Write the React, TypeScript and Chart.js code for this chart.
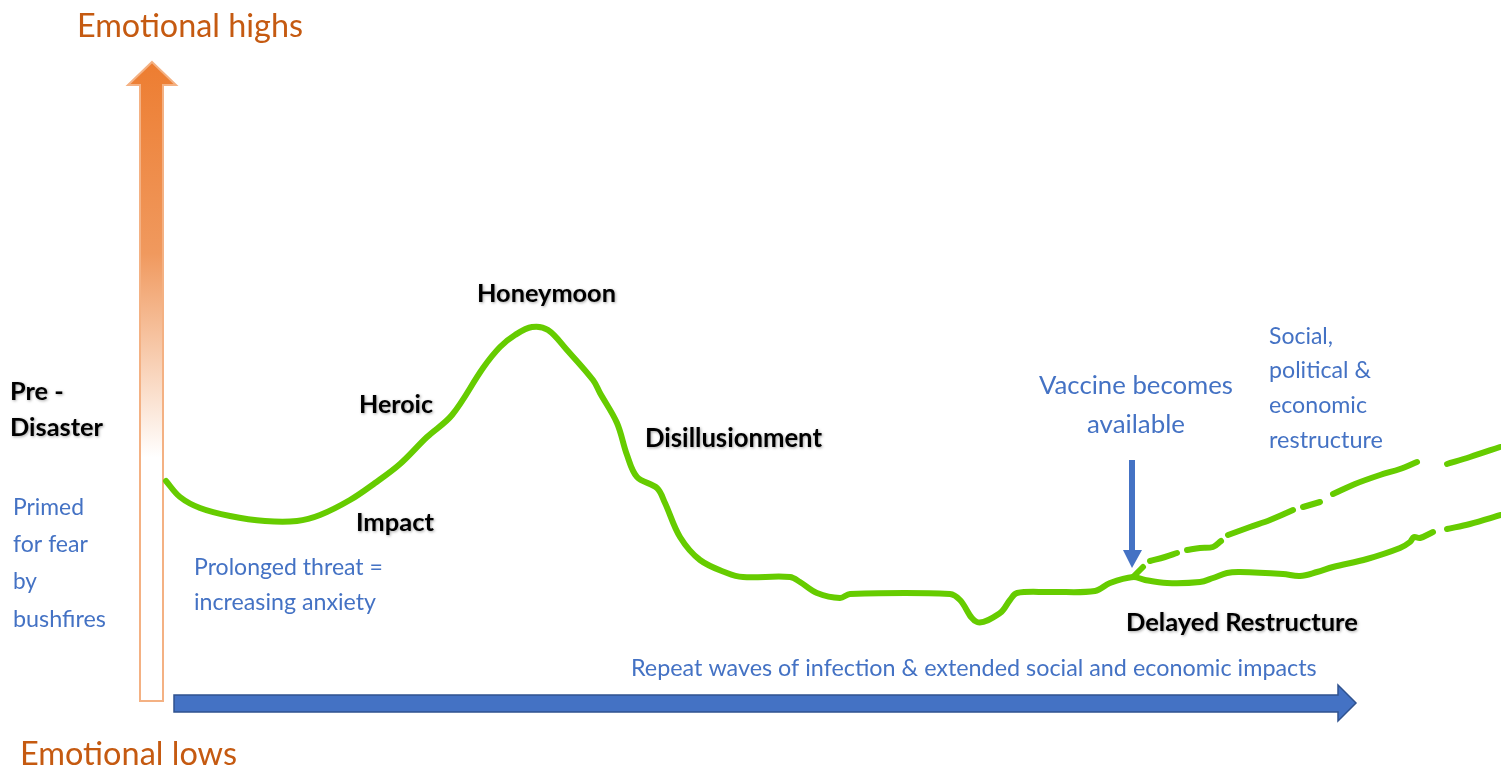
import React, { useEffect, useRef } from "react";
import { Chart, registerables } from "chart.js";

Chart.register(...registerables);

const W = 1501;
const H = 771;

// Main emotional trajectory: time (x) and emotional level (y, higher = better)
const mainTime = [
  166, 180, 200, 230, 265, 297, 320, 350, 375, 400, 427, 452, 483, 500, 515, 532,
  548, 567, 593, 600, 617, 627, 637, 657, 665, 680, 700, 727, 743, 790, 800, 817,
  840, 850, 950, 960, 977, 1000, 1010, 1017, 1050, 1095, 1110, 1133, 1145, 1167,
  1200, 1213, 1227, 1240, 1283, 1300, 1317, 1333, 1367, 1400, 1410, 1414, 1420, 1433,
];
const mainLevel = [
  290, 274, 263, 255, 250, 250, 256, 271, 288, 307, 334, 356, 403, 424, 436, 444,
  441, 421, 391, 378, 348, 316, 294, 283, 268, 234, 211, 198, 194, 194, 189, 178,
  173, 177, 177, 171, 149, 158, 171, 178, 179, 180, 188, 194, 191, 188,
  189, 193, 198, 199, 197, 195, 199, 204, 212, 223, 229, 234, 233, 239,
];

// Delayed-restructure tail (dashed continuation of the main line)
const tailTime = [1447, 1470, 1501];
const tailLevel = [242, 247, 256];

// Social, political & economic restructure path (hand-drawn dashes, null = gap)
const restructureTime = [
  1133, 1138, 1143, 1146, 1150, 1165, 1177, 1182, 1187, 1200, 1213, 1221, 1224,
  1228, 1250, 1270, 1293, 1298, 1303, 1320, 1326, 1333, 1355, 1380, 1400, 1417,
  1432, 1447, 1470, 1500,
];
const restructureLevel = [
  194, 199, 204, null, 210, 214, 218, null, 221, 223, 224, 230, null,
  236, 244, 251, 261, null, 264, 269, null, 277, 287, 296, 302, 309,
  null, 307, 314, 324,
];

type Label = {
  text: string;
  x: number;
  y: number;
  w: number;
  bold?: boolean;
  color: string;
  sizeOf?: string;
};

const ORANGE_TXT = "#C55A11";
const BLUE_TXT = "#4472C4";
const BLACK = "#000000";

const labels: Label[] = [
  { text: "Emotional highs", x: 77, y: 27, w: 226, color: ORANGE_TXT },
  { text: "Emotional lows", x: 20, y: 755, w: 217, color: ORANGE_TXT },
  { text: "Disaster", x: 10, y: 428, w: 93, bold: true, color: BLACK },
  { text: "Pre -", x: 10, y: 392, w: 38, bold: true, color: BLACK, sizeOf: "Disaster" },
  { text: "Primed", x: 13, y: 508, w: 71, color: BLUE_TXT },
  { text: "for fear", x: 13, y: 545, w: 75, color: BLUE_TXT },
  { text: "by", x: 13, y: 582, w: 24, color: BLUE_TXT },
  { text: "bushfires", x: 13, y: 619, w: 93, color: BLUE_TXT },
  { text: "Honeymoon", x: 477, y: 294, w: 139, bold: true, color: BLACK },
  { text: "Heroic", x: 359, y: 405, w: 74, bold: true, color: BLACK },
  { text: "Impact", x: 356, y: 523, w: 78, bold: true, color: BLACK },
  { text: "Disillusionment", x: 645, y: 439, w: 177, bold: true, color: BLACK },
  { text: "Prolonged threat =", x: 194, y: 568, w: 189, color: BLUE_TXT },
  { text: "increasing anxiety", x: 194, y: 603, w: 182, color: BLUE_TXT },
  { text: "Vaccine becomes", x: 1039, y: 386, w: 194, color: BLUE_TXT },
  { text: "available", x: 1087, y: 425, w: 98, color: BLUE_TXT },
  { text: "Social,", x: 1269, y: 337, w: 64, color: BLUE_TXT },
  { text: "political &", x: 1269, y: 371, w: 102, color: BLUE_TXT },
  { text: "economic", x: 1269, y: 406, w: 98, color: BLUE_TXT },
  { text: "restructure", x: 1269, y: 440, w: 114, color: BLUE_TXT },
  { text: "Delayed Restructure", x: 1126, y: 623, w: 232, bold: true, color: BLACK },
  {
    text: "Repeat waves of infection & extended social and economic impacts",
    x: 631, y: 668, w: 686, color: BLUE_TXT,
  },
];

const FONT = "Lato, 'Open Sans', sans-serif";
const GREEN = "#66CC00";

const diagramPlugin = {
  id: "diagram",
  beforeDatasetsDraw(chart: any) {
    const ctx: CanvasRenderingContext2D = chart.ctx;
    ctx.save();
    // Orange vertical arrow (emotional highs)
    const g = ctx.createLinearGradient(0, 62, 0, 700);
    g.addColorStop(0, "#ED7D31");
    g.addColorStop(0.3, "#F0995E");
    g.addColorStop(0.62, "#FFFFFF");
    g.addColorStop(1, "#FFFFFF");
    ctx.beginPath();
    ctx.moveTo(152, 62);
    ctx.lineTo(176, 85);
    ctx.lineTo(163, 85);
    ctx.lineTo(163, 701);
    ctx.lineTo(140, 701);
    ctx.lineTo(140, 85);
    ctx.lineTo(128, 85);
    ctx.closePath();
    ctx.fillStyle = g;
    ctx.fill();
    ctx.lineWidth = 2;
    ctx.strokeStyle = "#F4B183";
    ctx.stroke();

    // Blue horizontal arrow (time)
    ctx.beginPath();
    ctx.moveTo(174, 695);
    ctx.lineTo(1338, 695);
    ctx.lineTo(1338, 685);
    ctx.lineTo(1356, 703);
    ctx.lineTo(1338, 721);
    ctx.lineTo(1338, 712);
    ctx.lineTo(174, 712);
    ctx.closePath();
    ctx.fillStyle = "#4472C4";
    ctx.fill();
    ctx.lineWidth = 1.5;
    ctx.strokeStyle = "#2F528F";
    ctx.stroke();

    // Blue vaccine arrow
    ctx.beginPath();
    ctx.moveTo(1129, 460);
    ctx.lineTo(1135, 460);
    ctx.lineTo(1135, 550);
    ctx.lineTo(1142, 550);
    ctx.lineTo(1132, 568);
    ctx.lineTo(1123, 550);
    ctx.lineTo(1129, 550);
    ctx.closePath();
    ctx.fillStyle = "#4472C4";
    ctx.fill();
    ctx.restore();
  },
  afterDatasetsDraw(chart: any) {
    const ctx: CanvasRenderingContext2D = chart.ctx;
    ctx.save();
    ctx.textBaseline = "middle";
    ctx.textAlign = "left";
    const sizes: Record<string, number> = {};
    for (const l of labels) {
      const weight = l.bold ? "bold " : "";
      let size: number;
      if (l.sizeOf && sizes[l.sizeOf]) {
        size = sizes[l.sizeOf];
      } else {
        ctx.font = `${weight}20px ${FONT}`;
        const m = ctx.measureText(l.text).width;
        size = (20 * l.w) / m;
      }
      sizes[l.text] = size;
      ctx.font = `${weight}${size.toFixed(2)}px ${FONT}`;
      if (l.bold) {
        ctx.shadowColor = "rgba(0,0,0,0.35)";
        ctx.shadowBlur = 3;
        ctx.shadowOffsetX = 1;
        ctx.shadowOffsetY = 1;
      } else {
        ctx.shadowColor = "rgba(0,0,0,0)";
        ctx.shadowBlur = 0;
        ctx.shadowOffsetX = 0;
        ctx.shadowOffsetY = 0;
      }
      ctx.fillStyle = l.color;
      ctx.fillText(l.text, l.x, l.y);
    }
    ctx.restore();
  },
};

const toPoints = (xs: number[], ys: (number | null)[]) => xs.map((x, i) => ({ x, y: ys[i] }));

export default function App() {
  const ref = useRef<HTMLCanvasElement | null>(null);
  useEffect(() => {
    if (!ref.current) return;
    const lineStyle = {
      borderColor: GREEN,
      borderWidth: 6,
      pointRadius: 0,
      pointHoverRadius: 0,
      tension: 0.35,
      borderCapStyle: "round" as const,
      borderJoinStyle: "round" as const,
      fill: false,
      spanGaps: false,
    };
    const chart = new Chart(ref.current, {
      type: "line",
      data: {
        datasets: [
          { label: "Emotional trajectory", data: toPoints(mainTime, mainLevel), ...lineStyle },
          { label: "Delayed restructure", data: toPoints(tailTime, tailLevel), ...lineStyle },
          { label: "Restructure", data: toPoints(restructureTime, restructureLevel), ...lineStyle },
        ],
      },
      options: {
        animation: false,
        responsive: false,
        layout: { padding: 0 },
        events: [],
        scales: {
          x: { type: "linear", min: 0, max: W, display: false },
          y: { type: "linear", min: 0, max: H, display: false },
        },
        plugins: {
          legend: { display: false },
          tooltip: { enabled: false },
          title: { display: false },
        },
      },
      plugins: [diagramPlugin],
    });
    return () => chart.destroy();
  }, []);
  return (
    <div style={{ position: "fixed", left: 0, top: 0, width: W, height: H, background: "#fff" }}>
      <canvas ref={ref} width={W} height={H} style={{ display: "block" }} />
    </div>
  );
}
